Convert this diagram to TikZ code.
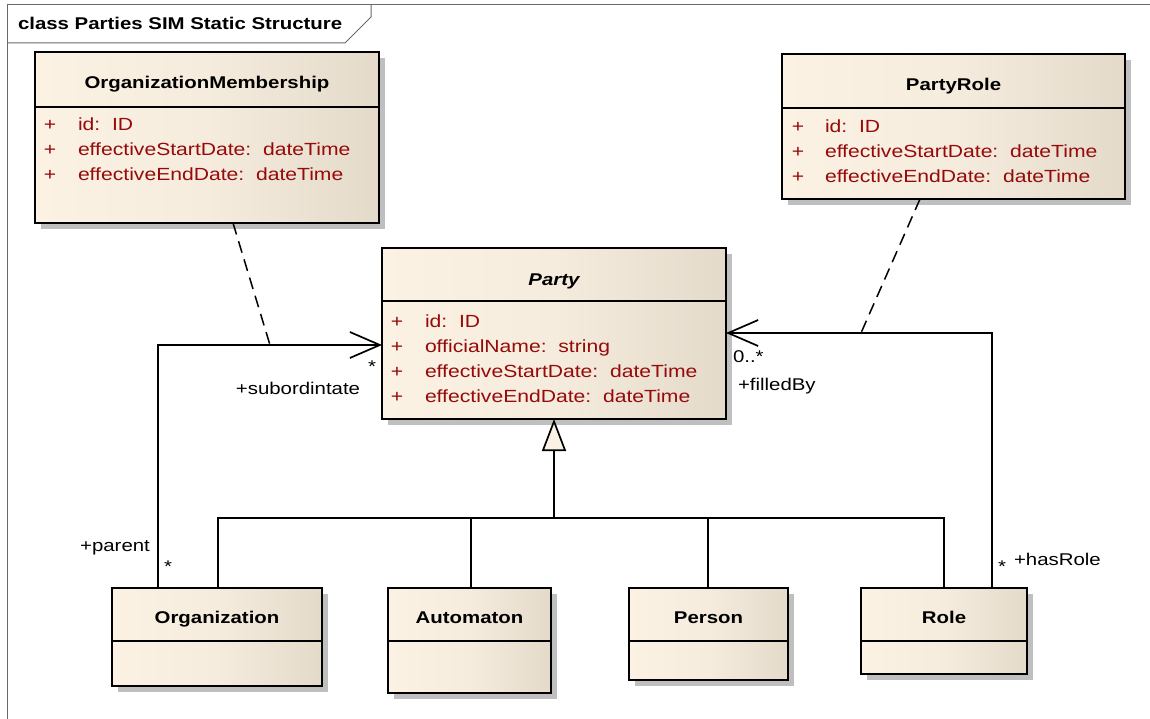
\documentclass[tikz,border=0pt]{standalone}
\usepackage{fontspec}
\setmainfont{Liberation Sans}[FakeStretch=1.2]
\usetikzlibrary{arrows.meta,shadows}
\definecolor{umlA}{RGB}{251,242,228}
\definecolor{umlB}{RGB}{228,218,202}
\definecolor{attrred}{RGB}{150,10,10}
\definecolor{framegray}{RGB}{105,105,105}
\begin{document}
\begin{tikzpicture}[x=1pt,y=-1pt,
  every node/.style={font=\fontsize{17}{20}\selectfont, inner sep=0pt, outer sep=0pt},
  classbox/.style={draw, line width=1.8pt, left color=umlA, right color=umlB, middle color=umlA!75!umlB,
    drop shadow={shadow xshift=6pt, shadow yshift=-6pt, opacity=1, fill=black!25},
    anchor=north west},
  sepline/.style={line width=1.8pt},
  ctitle/.style={anchor=base, font=\fontsize{17}{20}\selectfont\bfseries},
  attrtxt/.style={anchor=base west, text=attrred, font=\fontsize{17.6}{20}\selectfont},
  attrplus/.style={anchor=base, text=attrred, font=\fontsize{17.6}{20}\selectfont},
  lbl/.style={anchor=base},
  conn/.style={line width=1.7pt},
  assoc/.style={conn, -{Straight Barb[length=30pt,width=26pt]}},
  gen/.style={conn, -{Triangle[length=32pt,width=24pt,fill=umlA]}},
  dep/.style={line width=1.5pt, dash pattern=on 12pt off 7pt},
  framel/.style={line width=1pt, framegray}
]
\useasboundingbox (0,0) rectangle (1150,719);

% frame
\draw[framel] (7,719) -- (7,5) -- (1150,5);
\draw[framel] (7,43) -- (345,43) -- (371,17) -- (371,5);
\node[anchor=base west, font=\fontsize{17}{20}\selectfont\bfseries] (ftitle) at (18,30) {class Parties SIM Static Structure};

% OrganizationMembership
\node[classbox, minimum width=344pt, minimum height=171pt] (om) at (35,52) {};
\draw[sepline] (om.west |- 0,107) -- (om.east |- 0,107);
\node[ctitle] (omt) at (207,89) {OrganizationMembership};
\node[attrplus] (omp1) at (50,131) {+};
\node[attrtxt] (oma1) at (78,131) {id:\ \ ID};
\node[attrplus] (omp2) at (50,156) {+};
\node[attrtxt] (oma2) at (78,156) {effectiveStartDate:\ \ dateTime};
\node[attrplus] (omp3) at (50,181) {+};
\node[attrtxt] (oma3) at (78,181) {effectiveEndDate:\ \ dateTime};

% PartyRole
\node[classbox, minimum width=343pt, minimum height=145pt] (pr) at (782,54) {};
\draw[sepline] (pr.west |- 0,108) -- (pr.east |- 0,108);
\node[ctitle] (prt) at (953.5,91) {PartyRole};
\node[attrplus] (prp1) at (798,133) {+};
\node[attrtxt] (pra1) at (825,133) {id:\ \ ID};
\node[attrplus] (prp2) at (798,158) {+};
\node[attrtxt] (pra2) at (825,158) {effectiveStartDate:\ \ dateTime};
\node[attrplus] (prp3) at (798,183) {+};
\node[attrtxt] (pra3) at (825,183) {effectiveEndDate:\ \ dateTime};

% Party
\node[classbox, minimum width=344pt, minimum height=171pt] (party) at (382,248) {};
\draw[sepline] (party.west |- 0,301) -- (party.east |- 0,301);
\node[ctitle, font=\fontsize{17}{20}\selectfont\bfseries\itshape] (partyt) at (554,285) {Party};
\node[attrplus] (pp1) at (397,327) {+};
\node[attrtxt] (pa1) at (425,327) {id:\ \ ID};
\node[attrplus] (pp2) at (397,352) {+};
\node[attrtxt] (pa2) at (425,352) {officialName:\ \ string};
\node[attrplus] (pp3) at (397,377) {+};
\node[attrtxt] (pa3) at (425,377) {effectiveStartDate:\ \ dateTime};
\node[attrplus] (pp4) at (397,402) {+};
\node[attrtxt] (pa4) at (425,402) {effectiveEndDate:\ \ dateTime};

% bottom classes
\node[classbox, minimum width=210pt, minimum height=98pt] (org) at (112,588) {};
\draw[sepline] (org.west |- 0,641) -- (org.east |- 0,641);
\node[ctitle] (orgt) at (217,623) {Organization};

\node[classbox, minimum width=163pt, minimum height=105pt] (auto) at (388,588) {};
\draw[sepline] (auto.west |- 0,641) -- (auto.east |- 0,641);
\node[ctitle] (autot) at (469.5,623) {Automaton};

\node[classbox, minimum width=159pt, minimum height=92pt] (person) at (629,588) {};
\draw[sepline] (person.west |- 0,641) -- (person.east |- 0,641);
\node[ctitle] (persont) at (708.5,623) {Person};

\node[classbox, minimum width=166pt, minimum height=86pt] (role) at (861,588) {};
\draw[sepline] (role.west |- 0,641) -- (role.east |- 0,641);
\node[ctitle] (rolet) at (944,623) {Role};

% generalization
\coordinate (gj) at (554,518);
\draw[conn] ([xshift=106pt]org.north west) |- (gj);
\draw[conn] ([xshift=83pt]role.north west) |- (gj);
\draw[conn] ([xshift=83pt]auto.north west) |- (gj);
\draw[conn] ([xshift=79pt]person.north west) |- (gj);
\draw[gen] (gj) -- (party.south);

% associations
\draw[assoc] ([xshift=46pt]org.north west) |- ([yshift=-11.5pt]party.west);
\draw[assoc] ([xshift=-35pt]role.north east) |- ([yshift=0.5pt]party.east);

% association classes (dashed)
\coordinate (lmid) at (270,345);
\coordinate (rmid) at (861,333);
\draw[dep] ([xshift=198pt]om.south west) -- (lmid);
\draw[dep] ([xshift=138pt]pr.south west) -- (rmid);

% labels
\node[lbl] (m1) at (372,372) {*};
\node[lbl] (r1) at (298,394) {+subordintate};
\node[lbl, anchor=base west] (m2) at (733,362) {0..*};
\node[lbl, anchor=base west] (r2) at (738,390) {+filledBy};
\node[lbl] (r3) at (115,551) {+parent};
\node[lbl] (m3) at (168,572) {*};
\node[lbl] (m4) at (1002,572) {*};
\node[lbl, anchor=base west] (r4) at (1014,565) {+hasRole};
\end{tikzpicture}
\end{document}
